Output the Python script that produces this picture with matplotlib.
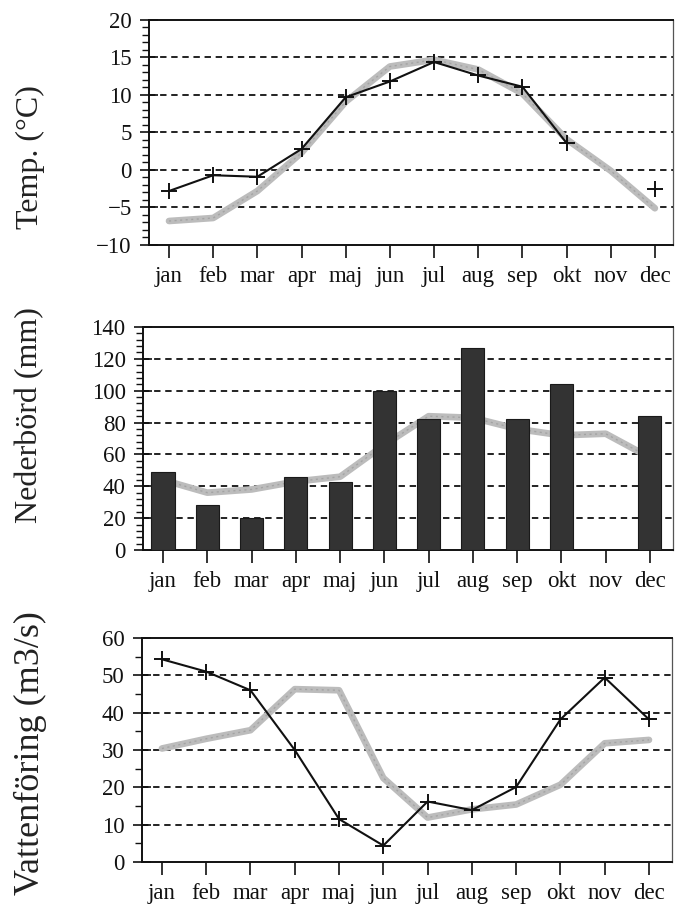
import numpy as np
import matplotlib
matplotlib.use("Agg")
import matplotlib.pyplot as plt
from matplotlib.ticker import MultipleLocator

plt.rcParams['font.family'] = ['Liberation Serif', 'DejaVu Serif']
plt.rcParams['lines.scale_dashes'] = False

months = ['jan', 'feb', 'mar', 'apr', 'maj', 'jun',
          'jul', 'aug', 'sep', 'okt', 'nov', 'dec']

# Temperature (°C): measured year and long-term normal
temp_year = [-2.8, -0.7, -0.9, 2.8, 9.7, 11.8, 14.4, 12.6, 11.1, 3.6, np.nan, -2.6]
temp_normal = [-6.8, -6.4, -2.8, 2.3, 9.1, 13.8, 14.7, 13.4, 10.2, 4.1, -0.1, -5.1]

# Precipitation (mm): measured year (bars) and normal (line)
prec_year = [49, 28, 20, 46, 43, 100, 82, 127, 82, 104, np.nan, 84]
prec_normal = [44, 36, 38, 43, 46, 66, 84, 83, 76, 72, 73, 58]

# Discharge (m3/s): measured year and normal
flow_year = [54.3, 51.0, 46.0, 30.0, 11.5, 4.4, 16.2, 13.9, 20.1, 38.2, 49.4, 38.2]
flow_normal = [30.4, 33.0, 35.3, 46.3, 46.0, 22.5, 11.9, 14.1, 15.4, 20.7, 31.8, 32.7]

x = np.arange(1, 13)

W, H = 675, 910
fig = plt.figure(figsize=(W / 100, H / 100), dpi=100)


def make_axes(left, right, top, bottom):
    return fig.add_axes([left / W, 1 - bottom / H, (right - left) / W, (bottom - top) / H])


ax1 = make_axes(149, 673, 20, 245)
ax2 = make_axes(143, 673, 327, 550)
ax3 = make_axes(142, 672, 638, 862)

GRAY = '#bcbcbc'
TEX = '#8c8c8c'


def normal_line(ax, y):
    ax.plot(x, y, color=GRAY, lw=4.8, solid_capstyle='round', zorder=2)
    ax.plot(x, y, color=TEX, lw=1.0, ls=(0, (1.5, 2.5)), alpha=0.5, zorder=2.1)


def year_line(ax, y):
    ax.plot(x, y, color='#111111', lw=1.5, marker='+', markersize=12,
            markeredgewidth=1.4, zorder=4)


def style(ax, xlim, ylim, major, minor, grid_vals):
    ax.set_xlim(*xlim)
    ax.set_ylim(*ylim)
    ax.set_xticks(x)
    ax.set_xticklabels(months)
    ax.yaxis.set_major_locator(MultipleLocator(major))
    if minor:
        ax.yaxis.set_minor_locator(MultipleLocator(minor))
    for gv in grid_vals:
        ln = ax.axhline(gv, color='#111111', lw=1.3, zorder=1)
        ln.set_dashes((4.6, 3.4))
    for s in ['left', 'bottom', 'top']:
        ax.spines[s].set_linewidth(1.4)
        ax.spines[s].set_color('#111111')
    ax.spines['right'].set_linewidth(0.9)
    ax.spines['right'].set_color('#555555')
    ax.tick_params(axis='y', which='major', direction='inout', length=13,
                   width=1.2, labelsize=16.5, pad=6, color='#111111')
    ax.tick_params(axis='y', which='minor', direction='out', length=5,
                   width=1.0, color='#111111')
    ax.tick_params(axis='x', which='major', direction='out', length=9,
                   width=1.2, labelsize=16.5, pad=6, color='#111111')
    ax.tick_params(axis='x', which='minor', length=0)
    for lab in ax.get_xticklabels() + ax.get_yticklabels():
        lab.set_color('#111111')


# Temperature panel
style(ax1, (0.547, 12.41), (-10, 20), 5, 1, [15, 10, 5, 0, -5])
normal_line(ax1, temp_normal)
year_line(ax1, temp_year)

# Precipitation panel
style(ax2, (0.548, 12.52), (0, 140), 20, 4, [20, 40, 60, 80, 100, 120])
normal_line(ax2, prec_normal)
ax2.bar(x, prec_year, width=0.52, color='#333333', edgecolor='#1a1a1a',
        linewidth=0.8, zorder=3)

# Discharge panel
style(ax3, (0.55, 12.52), (0, 60), 10, 5, [10, 20, 30, 40, 50])
normal_line(ax3, flow_normal)
year_line(ax3, flow_year)

fig.text(30 / W, 1 - 157 / H, 'Temp. (°C)', rotation=90, ha='center', va='center',
         fontsize=23, color='#222222')
fig.text(30 / W, 1 - 415 / H, 'Nederbörd (mm)', rotation=90, ha='center', va='center',
         fontsize=23, color='#222222')
fig.text(30 / W, 1 - 753 / H, 'Vattenföring (m3/s)', rotation=90, ha='center', va='center',
         fontsize=26, color='#222222')

fig.savefig('out.png', dpi=100, facecolor='white')
